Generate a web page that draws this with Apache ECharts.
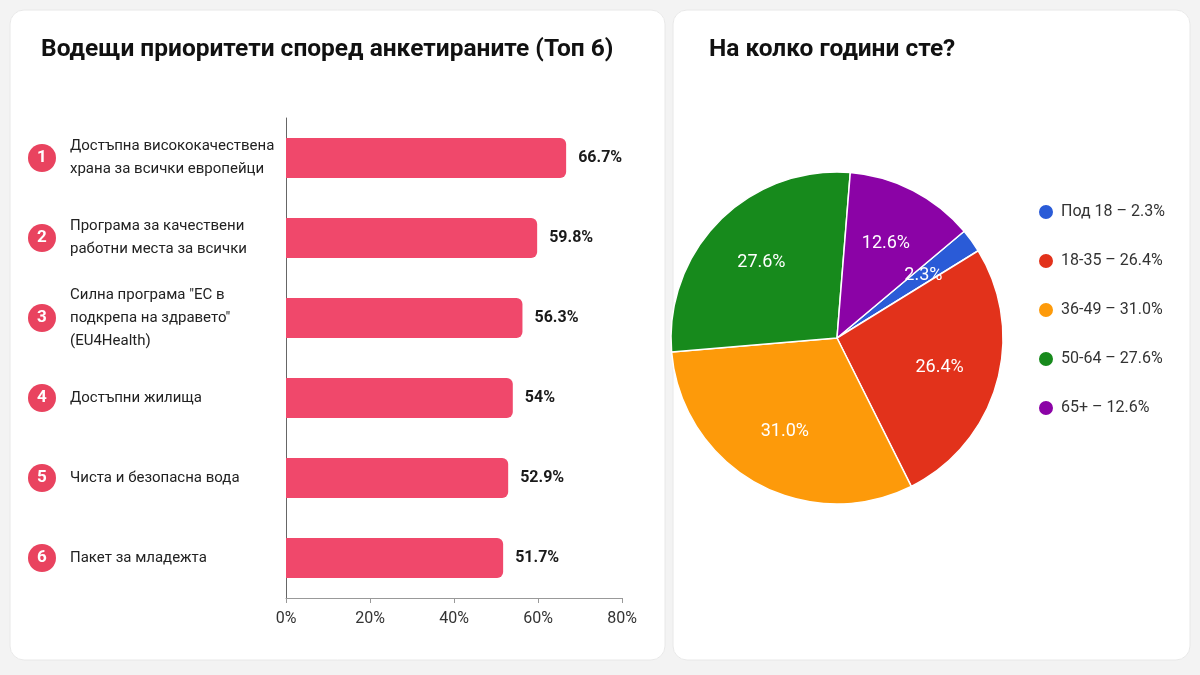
<!DOCTYPE html>
<html>
<head>
<meta charset="utf-8">
<script src="https://cdn.jsdelivr.net/npm/echarts@6/dist/echarts.min.js"></script>
<style>
  html, body { margin: 0; padding: 0; background: #f3f3f3; }
  #chart { width: 1200px; height: 675px; }
</style>
</head>
<body>
<div id="chart"></div>
<script>
// данни
const priorities = [
    'Достъпна висококачествена\nхрана за всички европейци',
    'Програма за качествени\nработни места за всички',
    'Силна програма "ЕС в\nподкрепа на здравето"\n(EU4Health)',
    'Достъпни жилища',
    'Чиста и безопасна вода',
    'Пакет за младежта'
];
const ranks = ['1', '2', '3', '4', '5', '6'];
const priorityValues = [66.7, 59.8, 56.3, 54, 52.9, 51.7];
const xTicks = [0, 20, 40, 60, 80];

const ageGroups = ['Под 18', '18-35', '36-49', '50-64', '65+'];
const ageValues = [2.3, 26.4, 31.0, 27.6, 12.6];
const ageColors = ['#2a5bd7', '#e2321b', '#fd9a0a', '#178a1c', '#8b03a6'];

const font = 'Roboto, "Noto Sans", sans-serif';
const pieCenter = [837, 338];
const chart = echarts.init(document.getElementById('chart'));

const option = {
    textStyle: { fontFamily: font },
    animation: false,
    graphic: [
        { type: 'rect', z: -10, shape: { x: 10, y: 10, width: 655, height: 650, r: 14 },
          style: { fill: '#fff', stroke: '#e8e8e8', lineWidth: 1 } },
        { type: 'rect', z: -10, shape: { x: 673, y: 10, width: 517, height: 650, r: 14 },
          style: { fill: '#fff', stroke: '#e8e8e8', lineWidth: 1 } }
    ],
    title: [
        { text: 'Водещи приоритети според анкетираните (Топ 6)', left: 36, top: 32,
          textStyle: { fontFamily: font, fontSize: 24.5, fontWeight: 'bold', color: '#111' } },
        { text: 'На колко години сте?', left: 704, top: 32,
          textStyle: { fontFamily: font, fontSize: 24.5, fontWeight: 'bold', color: '#111' } }
    ],
    legend: {
        orient: 'vertical',
        left: 1032,
        top: 198,
        icon: 'circle',
        itemWidth: 16,
        itemHeight: 16,
        itemGap: 31,
        data: ageGroups,
        textStyle: { fontSize: 16, color: '#333', fontFamily: font, padding: [0, 0, 0, 2] },
        formatter: function (name) {
            const i = ageGroups.indexOf(name);
            return name + ' – ' + ageValues[i].toFixed(1) + '%';
        }
    },
    grid: { left: 286, right: 578, top: 118, bottom: 77 },
    xAxis: {
        type: 'value',
        min: xTicks[0],
        max: xTicks[xTicks.length - 1],
        interval: 20,
        axisLine: { show: true, lineStyle: { color: '#999' } },
        axisTick: { show: true, length: 5, lineStyle: { color: '#999' } },
        splitLine: { show: false },
        axisLabel: { formatter: '{value}%', fontSize: 16, color: '#333', margin: 13 }
    },
    yAxis: [
        {
            type: 'category',
            inverse: true,
            data: priorities,
            axisLine: { show: true, lineStyle: { color: '#666' } },
            axisTick: { show: false },
            axisLabel: {
                align: 'left',
                margin: 216,
                fontSize: 15,
                lineHeight: 23,
                color: '#222'
            }
        },
        {
            type: 'category',
            inverse: true,
            position: 'left',
            data: ranks,
            axisLine: { show: false },
            axisTick: { show: false },
            axisLabel: {
                margin: 244,
                align: 'center',
                formatter: function (v) { return '{c|' + v + '}'; },
                rich: {
                    c: {
                        backgroundColor: '#e9435f',
                        borderRadius: 14,
                        width: 28,
                        height: 28,
                        lineHeight: 28,
                        align: 'center',
                        color: '#fff',
                        fontSize: 17,
                        fontWeight: 'bold'
                    }
                }
            }
        }
    ],
    series: [
        {
            type: 'bar',
            yAxisIndex: 0,
            data: priorityValues,
            barWidth: 40,
            itemStyle: { color: '#f0486b', borderRadius: [0, 6, 6, 0] },
            label: {
                show: true,
                position: 'right',
                distance: 12,
                formatter: '{c}%',
                fontSize: 16,
                fontWeight: 'bold',
                color: '#1a1a1a'
            }
        },
        {
            type: 'pie',
            center: pieCenter,
            radius: 166,
            startAngle: 40,
            clockwise: true,
            data: ageGroups.map((n, i) => ({ name: n, value: ageValues[i], itemStyle: { color: ageColors[i] } })),
            itemStyle: { borderColor: '#fff', borderWidth: 1.5 },
            label: {
                show: true,
                position: 'inside',
                formatter: function (p) { return p.value.toFixed(1) + '%'; },
                fontSize: 18,
                color: '#fff'
            },
            // push the inside labels a bit further out from the centre
            labelLayout: function (params) {
                const r = params.labelRect;
                const cx = r.x + r.width / 2 - pieCenter[0];
                const cy = r.y + r.height / 2 - pieCenter[1];
                return { dx: cx * 0.24, dy: cy * 0.24 };
            },
            labelLine: { show: false }
        }
    ]
};

chart.setOption(option);
window.addEventListener('resize', () => chart.resize());
</script>
</body>
</html>
